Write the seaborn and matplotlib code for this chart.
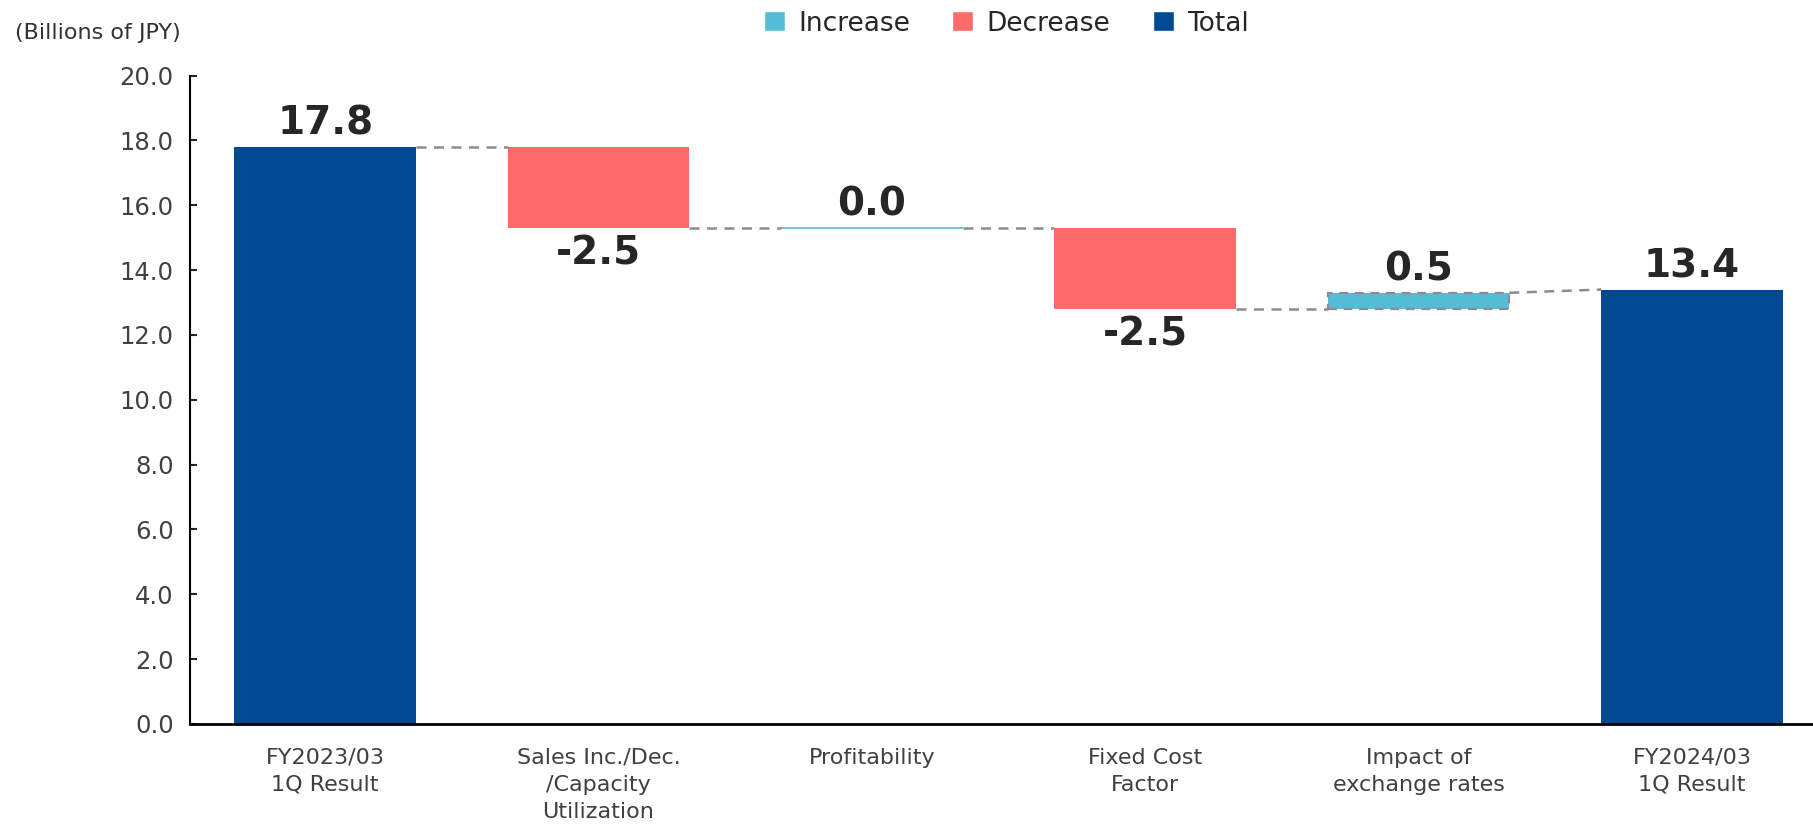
import numpy as np
import pandas as pd
import matplotlib.pyplot as plt
import seaborn as sns

# Waterfall data (billions of JPY)
categories = ['FY2023/03\n1Q Result', 'Sales Inc./Dec.\n/Capacity\nUtilization', 'Profitability',
              'Fixed Cost\nFactor', 'Impact of\nexchange rates', 'FY2024/03\n1Q Result']
deltas = [17.8, -2.5, 0.0, -2.5, 0.5, 13.4]
kinds = ['Total', 'Decrease', 'Increase', 'Decrease', 'Increase', 'Total']
value_labels = ['17.8', '-2.5', '0.0', '-2.5', '0.5', '13.4']

colors = {'Increase': '#56BBD7', 'Decrease': '#FF6B6B', 'Total': '#004A94'}

# bar bottoms / tops from the running total
bottoms = []
tops = []
running = 0.0
for d, k in zip(deltas, kinds):
    if k == 'Total':
        bottoms.append(0.0)
        tops.append(d)
        running = d
    else:
        start = running
        running = running + d
        bottoms.append(min(start, running))
        tops.append(max(start, running))

df = pd.DataFrame({'cat': categories, 'height': np.abs(deltas), 'kind': kinds})

sns.set_style('white')
plt.rcParams['font.family'] = ['DejaVu Sans']

fig = plt.figure(figsize=(18.13, 8.26), dpi=100)
ax = fig.add_axes([0.105, 0.1235, 0.895, 0.785])

sns.barplot(data=df, x='cat', y='height', hue='kind', hue_order=['Increase', 'Decrease', 'Total'],
            palette=colors, dodge=False, width=0.664, saturation=1, ax=ax)

# move bars to waterfall positions
for p in ax.patches:
    if p.get_width() == 0:
        continue
    i = int(round(p.get_x() + p.get_width() / 2))
    p.set_y(bottoms[i])
    p.set_height(tops[i] - bottoms[i])
    if deltas[i] == 0:
        p.set_edgecolor(colors['Increase'])
        p.set_linewidth(1.2)
    elif kinds[i] == 'Increase':
        p.set_edgecolor('#8C8C8C')
        p.set_linestyle((0, (4, 3)))
        p.set_linewidth(1.6)
    else:
        p.set_edgecolor('none')

# connectors
hw = 0.664 / 2
for i in range(len(deltas) - 1):
    if kinds[i] == 'Total':
        y0 = tops[i]
    elif deltas[i] < 0:
        y0 = bottoms[i]
    else:
        y0 = tops[i]
    if kinds[i + 1] == 'Total':
        y1 = tops[i + 1]
    elif deltas[i + 1] < 0:
        y1 = tops[i + 1]
    else:
        y1 = bottoms[i + 1]
    ax.plot([i + hw, i + 1 - hw], [y0, y1], color='#8C8C8C', lw=1.8, ls=(0, (4, 3)), zorder=1)

# value labels
for i, lab in enumerate(value_labels):
    if deltas[i] < 0:
        ax.annotate(lab, (i, bottoms[i]), xytext=(0, -5), textcoords='offset points',
                    ha='center', va='top', fontsize=28, fontweight='bold', color='#262626')
    else:
        ax.annotate(lab, (i, tops[i]), xytext=(0, 3), textcoords='offset points',
                    ha='center', va='bottom', fontsize=28, fontweight='bold', color='#262626')

ax.set_ylim(0, 20)
ax.set_yticks(np.arange(0, 20.1, 2))
ax.set_yticklabels(['%.1f' % v for v in np.arange(0, 20.1, 2)])
ax.set_xlim(-0.493, 5.443)
ax.set_xlabel('')
ax.set_ylabel('')
for t in ax.get_xticklabels():
    t.set_linespacing(1.45)

sns.despine(ax=ax)
ax.spines['left'].set_color('black')
ax.spines['left'].set_linewidth(1.5)
ax.spines['bottom'].set_color('black')
ax.spines['bottom'].set_linewidth(2)
ax.tick_params(axis='y', direction='in', length=5, width=1.5, labelsize=17.5, labelcolor='#404040', pad=12, left=True)
ax.tick_params(axis='x', length=0, labelsize=16, labelcolor='#404040', pad=17)

sns.move_legend(ax, 'upper center', bbox_to_anchor=(0.555, 1.016), bbox_transform=fig.transFigure,
                ncol=3, frameon=False, title=None, fontsize=19, handlelength=0.8, handleheight=0.8,
                handletextpad=0.5, columnspacing=1.6)

fig.text(0.008, 0.960, '(Billions of JPY)', fontsize=16, color='#333333', va='center')

fig.savefig('out.png', dpi=100)
